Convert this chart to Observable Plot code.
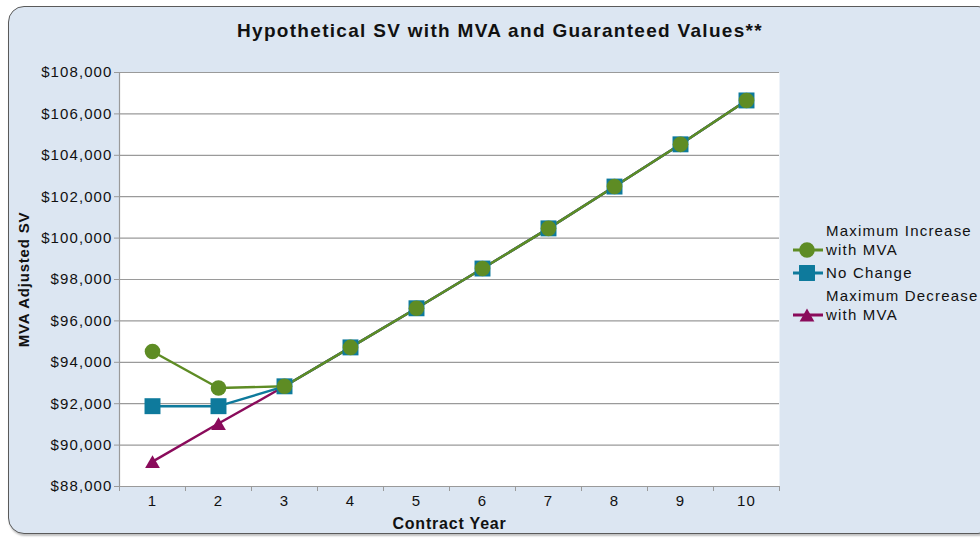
<!DOCTYPE html>
<html>
<head>
<meta charset="utf-8">
<script src="https://cdn.jsdelivr.net/npm/d3@7"></script>
<script src="https://cdn.jsdelivr.net/npm/@observablehq/plot@0.6"></script>
<style>
  html, body { margin: 0; padding: 0; background: #fff; }
  #wrap { position: relative; width: 980px; height: 540px; overflow: hidden; font-family: "Liberation Sans", Arial, sans-serif; }
  #box { position: absolute; left: 8px; top: 6px; width: 984px; height: 526px; background: #dce6f2; border: 1.5px solid #5a5a5a; border-radius: 16px; box-shadow: 1px 2px 2px rgba(0,0,0,0.25); }
  #title { position: absolute; left: 0; width: 1000px; top: 20px; text-align: center; font-weight: bold; font-size: 19px; letter-spacing: 1.3px; color: #111; }
  #chart { position: absolute; left: 0; top: 0; }
  #chart svg text { letter-spacing: 1.1px; }
  #chart svg text.axtitle { letter-spacing: 0.8px; }
  #legend { position: absolute; left: 793px; top: 221px; font-size: 15px; letter-spacing: 1.2px; color: #111; line-height: 19px; white-space: nowrap; }
  .item { display: flex; align-items: flex-end; margin-bottom: 4px; }
  .item svg { flex: none; margin-right: 3px; }
</style>
</head>
<body>
<div id="wrap">
  <div id="box"></div>
  <div id="title">Hypothetical SV with MVA and Guaranteed Values**</div>
  <div id="chart"></div>
  <div id="legend"></div>
</div>
<script>
const years = [1, 2, 3, 4, 5, 6, 7, 8, 9, 10];
const maxIncrease = [94520, 92760, 92840, 94720, 96610, 98530, 100470, 102490, 104530, 106650];
const noChange    = [91880, 91880, 92840, 94720, 96610, 98530, 100470, 102490, 104530, 106650];
const maxDecrease = [89200, 91040, 92840, 94720, 96610, 98530, 100470, 102490, 104530, 106650];
const yTicks = [88000, 90000, 92000, 94000, 96000, 98000, 100000, 102000, 104000, 106000, 108000];
const xBoundaries = [0.5, 1.5, 2.5, 3.5, 4.5, 5.5, 6.5, 7.5, 8.5, 9.5, 10.5];

// triangle centred on its bounding box (so it sits inside the square markers)
const boxTriangle = {
  draw(context, size) {
    const w = Math.sqrt(2 * size / 0.87), h = 0.87 * w;
    context.moveTo(0, -h / 2);
    context.lineTo(w / 2, h / 2);
    context.lineTo(-w / 2, h / 2);
    context.closePath();
  }
};

const series = [
  {name: "Maximum Decrease with MVA", label: ["Maximum Decrease", "with MVA"], values: maxDecrease, color: "#8a0b5b", symbol: boxTriangle, r: 5.5},
  {name: "No Change", label: ["No Change"], values: noChange, color: "#0e7a9c", symbol: "square", r: 9.0},
  {name: "Maximum Increase with MVA", label: ["Maximum Increase", "with MVA"], values: maxIncrease, color: "#5e8c24", symbol: "circle", r: 7.8}
];

const data = series.flatMap(s => years.map((yr, i) => ({series: s.name, year: yr, value: s.values[i]})));

const gray = "#9a9a9a";
const marks = [
  Plot.frame({fill: "white", stroke: null}),
  Plot.gridY(yTicks, {stroke: gray, strokeOpacity: 1, strokeWidth: 1.2}),
  Plot.ruleX([0.5], {stroke: gray, strokeWidth: 1.2}),
  Plot.axisY(yTicks, {tickSize: 5, tickPadding: 2, stroke: gray, fill: "#111", fontSize: 15,
    tickFormat: d => "$" + d3.format(",")(d), label: null}),
  Plot.axisX(xBoundaries, {tickSize: 5, stroke: gray, tickFormat: () => "", label: null}),
  Plot.axisX(years, {tickSize: 0, tickPadding: 9, fill: "#111", fontSize: 15, label: null}),
  Plot.text(["MVA Adjusted SV"], {frameAnchor: "left", dx: -95, rotate: -90, textAnchor: "middle", lineAnchor: "middle",
    fontWeight: "bold", fontSize: 15, fill: "#111", className: "axtitle"}),
  Plot.text(["Contract Year"], {frameAnchor: "bottom", dy: 37, textAnchor: "middle", lineAnchor: "middle",
    fontWeight: "bold", fontSize: 16, fill: "#111", className: "axtitle"})
];
for (const s of series) {
  const d = data.filter(p => p.series === s.name);
  marks.push(Plot.line(d, {x: "year", y: "value", stroke: s.color, strokeWidth: 2.4}));
}
for (const s of series) {
  const d = data.filter(p => p.series === s.name);
  marks.push(Plot.dot(d, {x: "year", y: "value", fill: s.color, symbol: s.symbol, r: s.r, stroke: null}));
}

const chart = Plot.plot({
  width: 980,
  height: 540,
  marginLeft: 119,
  marginRight: 201,
  marginTop: 72,
  marginBottom: 54,
  style: {background: "transparent", fontFamily: "Liberation Sans, Arial, sans-serif", fontSize: "15px"},
  x: {type: "linear", domain: [0.5, 10.5]},
  y: {domain: [88000, 108000]},
  marks
});
document.getElementById("chart").appendChild(chart);
chart.querySelectorAll("g.axtitle text, text.axtitle").forEach(t => t.classList.add("axtitle"));

// Legend (order: increase, no change, decrease)
const legend = document.getElementById("legend");
for (const s of [series[2], series[1], series[0]]) {
  const item = document.createElement("div");
  item.className = "item";
  const symType = s.symbol === "circle" ? d3.symbolCircle : s.symbol === "square" ? d3.symbolSquare : s.symbol;
  const path = d3.symbol(symType, Math.PI * s.r * s.r)();
  const svg = d3.create("svg").attr("width", 30).attr("height", 19);
  svg.append("line").attr("x1", 0).attr("x2", 30).attr("y1", 10).attr("y2", 10)
    .attr("stroke", s.color).attr("stroke-width", 3);
  svg.append("path").attr("d", path).attr("transform", "translate(14,10)").attr("fill", s.color);
  item.appendChild(svg.node());
  const txt = document.createElement("div");
  txt.innerHTML = s.label.join("<br>");
  item.appendChild(txt);
  legend.appendChild(item);
}
</script>
</body>
</html>
